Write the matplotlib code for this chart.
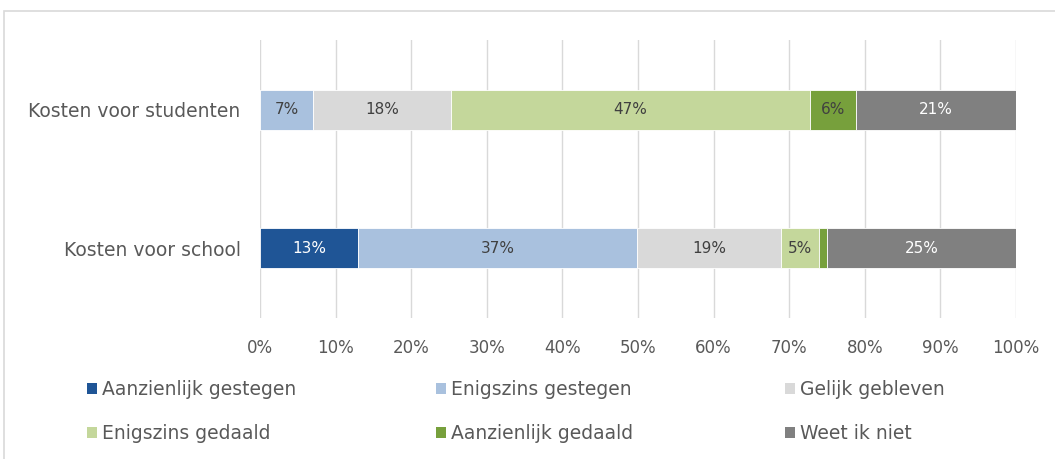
import matplotlib
matplotlib.use("Agg")
import matplotlib.pyplot as plt
from matplotlib.patches import Rectangle, Patch
import numpy as np

categories = ["Kosten voor school", "Kosten voor studenten"]
series = ["Aanzienlijk gestegen", "Enigszins gestegen", "Gelijk gebleven",
          "Enigszins gedaald", "Aanzienlijk gedaald", "Weet ik niet"]
school = [13.0, 36.9, 19.0, 5.0, 1.1, 25.0]
studenten = [0.0, 7.0, 18.3, 47.4, 6.2, 21.1]
colors = ["#1F5596", "#A9C1DE", "#D9D9D9", "#C4D79B", "#77A03C", "#808080"]
label_colors = ["white", "#404040", "#404040", "#404040", "#404040", "white"]
xticks = [0, 10, 20, 30, 40, 50, 60, 70, 80, 90, 100]

plt.rcParams['font.family'] = ['DejaVu Sans']

W, H = 1055, 459
fig = plt.figure(figsize=(W / 100, H / 100), dpi=100)

# outer light border
fig.patches.append(Rectangle((4 / W, -0.1), 1.2, 1.1 - 11 / H, transform=fig.transFigure,
                             fill=False, edgecolor="#D9D9D9", linewidth=1.2))

ax = fig.add_axes([260 / W, 1 - 318 / H, (1016 - 260) / W, (318 - 40) / H])
data = np.array([school, studenten])
y = np.arange(len(categories))
left = np.zeros(len(categories))
for i, name in enumerate(series):
    vals = data[:, i]
    bars = ax.barh(y, vals, left=left, height=0.283, color=colors[i],
                   edgecolor="white", linewidth=0.6, label=name, zorder=3)
    for j, b in enumerate(bars):
        v = vals[j]
        if v >= 2:
            ax.text(left[j] + v / 2, y[j], f"{int(round(v))}%", ha="center", va="center",
                    fontsize=11, color=label_colors[i], zorder=4)
    left += vals

ax.set_xlim(0, 100)
ax.set_ylim(-0.507, 1.507)
ax.set_xticks(xticks)
ax.set_xticklabels([f"{t}%" for t in xticks])
ax.set_yticks(y)
ax.set_yticklabels(categories)
ax.tick_params(axis="both", length=0, colors="#595959")
ax.tick_params(axis="x", pad=15, labelsize=12)
ax.tick_params(axis="y", pad=14, labelsize=13.5)
ax.grid(axis="x", color="#D9D9D9", linewidth=1, zorder=0)
for s in ax.spines.values():
    s.set_visible(False)

handles = [Patch(facecolor=c, edgecolor="none") for c in colors]
col_x = [87, 436, 785]
for c in range(3):
    idx = [c, c + 3]
    fig.legend([handles[k] for k in idx], [series[k] for k in idx], ncol=1,
               loc="upper left", bbox_to_anchor=(col_x[c] / W, 1 - 380 / H), frameon=False,
               fontsize=13.5, handlelength=0.55, handleheight=0.55, handletextpad=0.25,
               labelspacing=1.33, labelcolor="#595959", borderpad=0, borderaxespad=0)

fig.savefig("out.png", dpi=100)
